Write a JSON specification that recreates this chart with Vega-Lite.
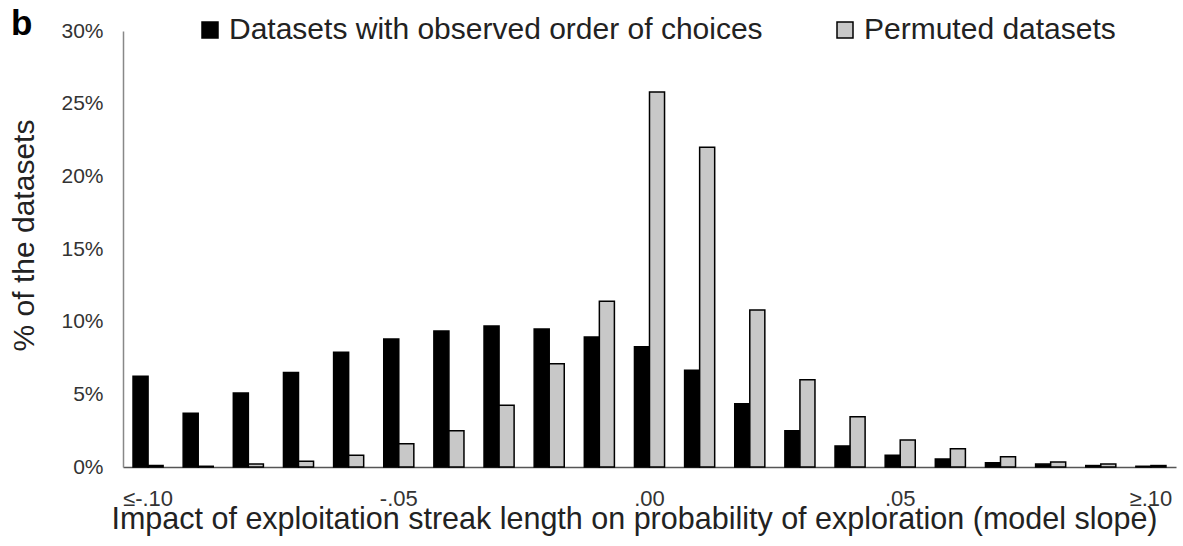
{
  "$schema": "https://vega.github.io/schema/vega-lite/v6.json",
  "autosize": "none",
  "width": 1053,
  "height": 436,
  "padding": {"left": 123, "top": 31, "right": 7, "bottom": 79},
  "background": "white",
  "data": {"values": [
    {"bin": "≤-.10", "series": "Datasets with observed order of choices", "value": 6.25},
    {"bin": "≤-.10", "series": "Permuted datasets", "value": 0.1},
    {"bin": "-.09", "series": "Datasets with observed order of choices", "value": 3.7},
    {"bin": "-.09", "series": "Permuted datasets", "value": 0.05},
    {"bin": "-.08", "series": "Datasets with observed order of choices", "value": 5.1},
    {"bin": "-.08", "series": "Permuted datasets", "value": 0.2},
    {"bin": "-.07", "series": "Datasets with observed order of choices", "value": 6.5},
    {"bin": "-.07", "series": "Permuted datasets", "value": 0.4},
    {"bin": "-.06", "series": "Datasets with observed order of choices", "value": 7.9},
    {"bin": "-.06", "series": "Permuted datasets", "value": 0.8},
    {"bin": "-.05", "series": "Datasets with observed order of choices", "value": 8.8},
    {"bin": "-.05", "series": "Permuted datasets", "value": 1.6},
    {"bin": "-.04", "series": "Datasets with observed order of choices", "value": 9.35},
    {"bin": "-.04", "series": "Permuted datasets", "value": 2.5},
    {"bin": "-.03", "series": "Datasets with observed order of choices", "value": 9.7},
    {"bin": "-.03", "series": "Permuted datasets", "value": 4.25},
    {"bin": "-.02", "series": "Datasets with observed order of choices", "value": 9.5},
    {"bin": "-.02", "series": "Permuted datasets", "value": 7.1},
    {"bin": "-.01", "series": "Datasets with observed order of choices", "value": 8.95},
    {"bin": "-.01", "series": "Permuted datasets", "value": 11.4},
    {"bin": ".00", "series": "Datasets with observed order of choices", "value": 8.27},
    {"bin": ".00", "series": "Permuted datasets", "value": 25.8},
    {"bin": ".01", "series": "Datasets with observed order of choices", "value": 6.65},
    {"bin": ".01", "series": "Permuted datasets", "value": 22.0},
    {"bin": ".02", "series": "Datasets with observed order of choices", "value": 4.35},
    {"bin": ".02", "series": "Permuted datasets", "value": 10.8},
    {"bin": ".03", "series": "Datasets with observed order of choices", "value": 2.5},
    {"bin": ".03", "series": "Permuted datasets", "value": 6.0},
    {"bin": ".04", "series": "Datasets with observed order of choices", "value": 1.45},
    {"bin": ".04", "series": "Permuted datasets", "value": 3.45},
    {"bin": ".05", "series": "Datasets with observed order of choices", "value": 0.8},
    {"bin": ".05", "series": "Permuted datasets", "value": 1.85},
    {"bin": ".06", "series": "Datasets with observed order of choices", "value": 0.55},
    {"bin": ".06", "series": "Permuted datasets", "value": 1.25},
    {"bin": ".07", "series": "Datasets with observed order of choices", "value": 0.3},
    {"bin": ".07", "series": "Permuted datasets", "value": 0.7},
    {"bin": ".08", "series": "Datasets with observed order of choices", "value": 0.2},
    {"bin": ".08", "series": "Permuted datasets", "value": 0.35},
    {"bin": ".09", "series": "Datasets with observed order of choices", "value": 0.1},
    {"bin": ".09", "series": "Permuted datasets", "value": 0.2},
    {"bin": "≥.10", "series": "Datasets with observed order of choices", "value": 0.05},
    {"bin": "≥.10", "series": "Permuted datasets", "value": 0.1}
  ]},
  "mark": {"type": "bar", "stroke": "black", "strokeWidth": 1.5},
  "encoding": {
    "x": {
      "field": "bin", "type": "nominal", "sort": null,
      "scale": {"paddingInner": 0.4, "paddingOuter": 0.2},
      "axis": {
        "values": ["≤-.10", "-.05", ".00", ".05", "≥.10"],
        "labelAngle": 0, "ticks": false, "domainColor": "#555", "domainWidth": 1.5,
        "labelFont": "Liberation Sans", "labelFontSize": 22, "labelColor": "#333", "labelPadding": 21,
        "title": "Impact of exploitation streak length on probability of exploration (model slope)",
        "titleFont": "Liberation Sans", "titleFontWeight": "normal", "titleFontSize": 30.5, "titleColor": "#222", "titlePadding": -5, "titleX": 511
      }
    },
    "xOffset": {"field": "series", "type": "nominal"},
    "y": {
      "field": "value", "type": "quantitative",
      "scale": {"domain": [0, 30], "nice": false},
      "axis": {
        "values": [0, 5, 10, 15, 20, 25, 30], "labelExpr": "datum.value + '%'",
        "grid": false, "ticks": false, "domainColor": "#888", "domainWidth": 1.5,
        "labelFont": "Liberation Sans", "labelFontSize": 21, "labelColor": "#333", "labelPadding": 20,
        "title": "% of the datasets",
        "titleFont": "Liberation Sans", "titleFontWeight": "normal", "titleFontSize": 30, "titleColor": "#222", "titlePadding": 21, "titleY": 204
      }
    },
    "fill": {
      "field": "series", "type": "nominal",
      "scale": {"domain": ["Datasets with observed order of choices", "Permuted datasets"], "range": ["black", "#c8c8c8"]},
      "legend": {
        "title": "b", "titleOrient": "left", "titlePadding": 162,
        "titleFont": "Liberation Sans", "titleFontSize": 35, "titleFontWeight": "bold", "titleColor": "black",
        "titleBaseline": "line-bottom", "titleLineHeight": 10,
        "orient": "none", "legendX": -112, "legendY": -16, "direction": "horizontal",
        "symbolType": "square", "symbolSize": 256, "symbolStrokeColor": "black", "symbolStrokeWidth": 1.5,
        "labelFont": "Liberation Sans", "labelFontSize": 30, "labelColor": "#222", "labelOffset": 4,
        "columnPadding": 67, "labelLimit": 700
      }
    }
  },
  "config": {"view": {"stroke": null}}
}
